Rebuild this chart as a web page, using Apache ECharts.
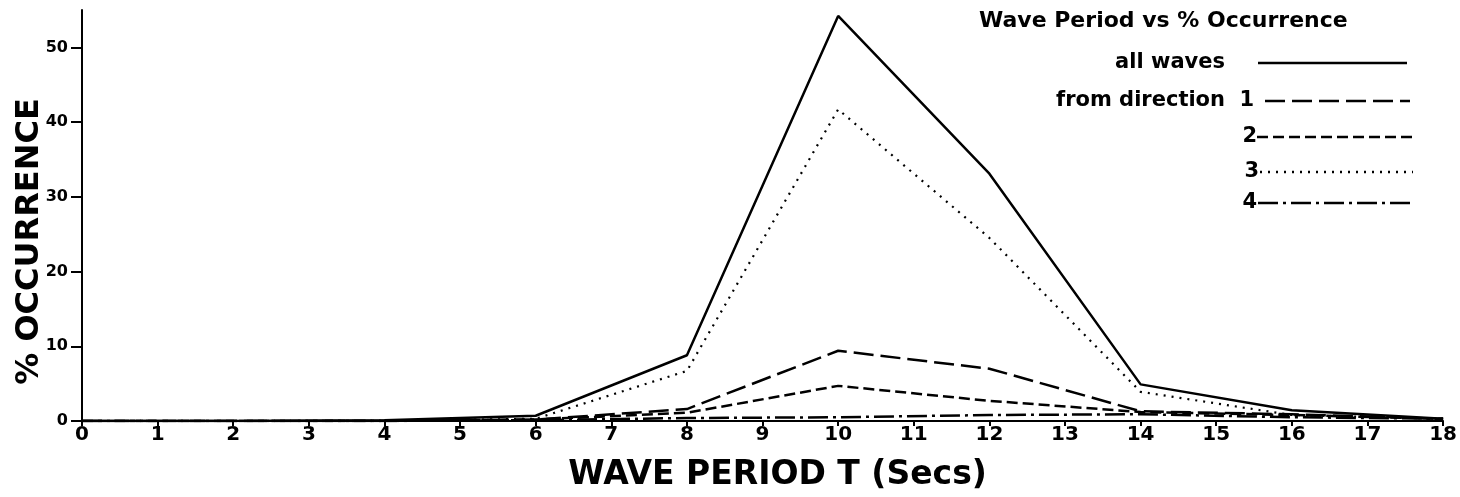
<!DOCTYPE html>
<html>
<head>
<meta charset="utf-8">
<script src="https://cdn.jsdelivr.net/npm/echarts@6/dist/echarts.min.js"></script>
<style>
    html, body { margin: 0; padding: 0; background: #fff; }
    #wavechart { width: 1460px; height: 497px; }
</style>
</head>
<body>
<div id="wavechart"></div>
<script>
// wave period (secs) where the curves were plotted
const periods = [0, 2, 4, 6, 8, 10, 12, 14, 16, 18];

// % occurrence
const allWaves = [0, 0, 0.1, 0.7, 8.8, 54.2, 33.1, 4.9, 1.45, 0.3];
const dir1 = [0, 0, 0, 0.2, 1.6, 9.4, 7.0, 1.3, 0.9, 0.3];
const dir2 = [0, 0, 0, 0.2, 1.1, 4.7, 2.7, 1.2, 0.8, 0.3];
const dir3 = [0, 0, 0, 0.3, 6.7, 41.7, 24.5, 3.9, 0.8, 0.3];
const dir4 = [0, 0, 0, 0.1, 0.4, 0.5, 0.8, 0.9, 0.5, 0.3];

const yTicks = [0, 10, 20, 30, 40, 50];

const font = "'DejaVu Sans', sans-serif";
const dash1 = [20, 7];
const dash2 = [11, 5];
const dash3 = [2, 6];
const dash4 = [20, 5, 3, 5];

function pairs(vals) {
    return periods.map((p, i) => [p, vals[i]]);
}

function lineSeries(name, vals, type, width) {
    return {
        name: name,
        type: 'line',
        symbol: 'none',
        smooth: false,
        lineStyle: { color: '#000', width: width, type: type },
        data: pairs(vals)
    };
}

// hand drawn style legend: label on the left, line sample on the right
function legendRow(label, labelX, align, y, x1, x2, dash) {
    return [
        {
            type: 'text',
            x: labelX,
            y: y,
            style: {
                text: label,
                fill: '#000',
                font: 'bold 21px ' + font,
                align: align,
                verticalAlign: 'middle'
            }
        },
        {
            type: 'line',
            shape: { x1: x1, y1: y, x2: x2, y2: y },
            style: { stroke: '#000', lineWidth: 2.5, lineDash: dash }
        }
    ];
}

const chart = echarts.init(document.getElementById('wavechart'));

const option = {
    animation: false,
    backgroundColor: '#fff',
    title: {
        text: 'Wave Period vs % Occurrence',
        left: 974,
        top: 5,
        textStyle: {
            fontFamily: font,
            fontWeight: 'bold',
            fontSize: 22,
            color: '#000'
        }
    },
    grid: {
        left: 82,
        right: 12,
        top: 10,
        bottom: 74
    },
    xAxis: {
        type: 'value',
        min: 0,
        max: 18,
        interval: 1,
        name: 'WAVE PERIOD T (Secs)',
        nameLocation: 'middle',
        nameGap: 38,
        nameTextStyle: {
            fontFamily: font,
            fontWeight: 'bold',
            fontSize: 33,
            color: '#000',
            padding: [0, 0, 0, 30]
        },
        axisLine: { lineStyle: { color: '#000', width: 2 } },
        axisTick: { show: true, length: 5, lineStyle: { color: '#000', width: 2 } },
        axisLabel: {
            margin: 4,
            fontFamily: font,
            fontWeight: 'bold',
            fontSize: 20,
            color: '#000'
        },
        splitLine: { show: false }
    },
    yAxis: {
        type: 'value',
        min: 0,
        max: 55,
        name: '% OCCURRENCE',
        nameLocation: 'middle',
        nameRotate: 90,
        nameGap: 36,
        nameMoveOverlap: false,
        nameTextStyle: {
            fontFamily: font,
            fontWeight: 'bold',
            fontSize: 32,
            color: '#000',
            padding: [0, 52, 0, 0]
        },
        axisLine: { show: true, lineStyle: { color: '#000', width: 2 } },
        axisTick: {
            show: true,
            length: 11,
            customValues: yTicks,
            lineStyle: { color: '#000', width: 2 }
        },
        axisLabel: {
            margin: 14,
            customValues: yTicks,
            fontFamily: font,
            fontWeight: 'bold',
            fontSize: 16,
            color: '#000'
        },
        splitLine: { show: false }
    },
    graphic: [
        ...legendRow('all waves', 1225, 'right', 63, 1258, 1407, null),
        ...legendRow('from direction', 1225, 'right', 101, 1265, 1410, dash1),
        {
            type: 'text', x: 1254, y: 101,
            style: { text: '1', fill: '#000', font: 'bold 21px ' + font, align: 'right', verticalAlign: 'middle' }
        },
        ...legendRow('2', 1257, 'right', 137, 1257, 1412, dash2),
        ...legendRow('3', 1259, 'right', 172, 1260, 1413, dash3),
        ...legendRow('4', 1257, 'right', 203, 1258, 1412, dash4)
    ],
    series: [
        lineSeries('all waves', allWaves, 'solid', 2.5),
        lineSeries('from direction 1', dir1, dash1, 2.5),
        lineSeries('2', dir2, dash2, 2.5),
        lineSeries('3', dir3, dash3, 2.2),
        lineSeries('4', dir4, dash4, 2.5)
    ]
};

chart.setOption(option);
</script>
</body>
</html>
